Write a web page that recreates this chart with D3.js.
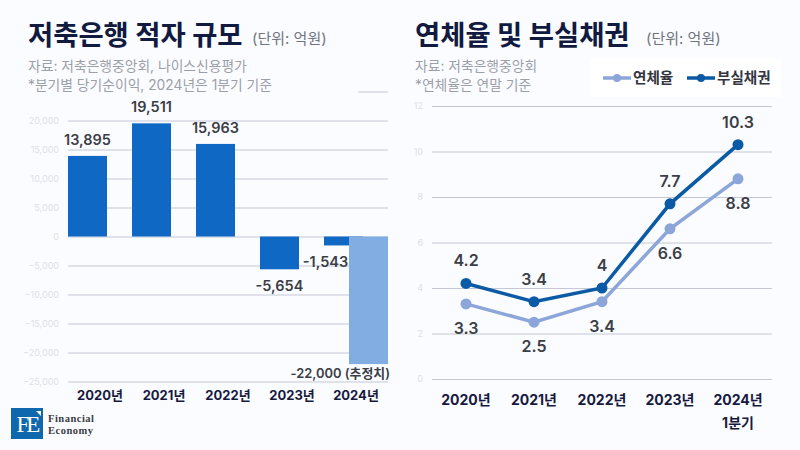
<!DOCTYPE html>
<html>
<head>
<meta charset="utf-8">
<script src="https://cdn.jsdelivr.net/npm/d3@7"></script>
<style>
  html, body { margin: 0; padding: 0; background: #fbfcff; }
  svg { display: block; }
  text { font-family: Inter, "Noto Sans CJK KR", sans-serif; }
</style>
</head>
<body>
<div id="canvas"></div>
<script>
"use strict"

/* left chart data */
let years = ["2020년", "2021년", "2022년", "2023년", "2024년"];
let barSeries = ["actual", "estimate"];
let actualValues = [13895, 19511, 15963, -5654, -1543];
let estimateValues = [null, null, null, null, -22000];
let barTicks = [-25000, -20000, -15000, -10000, -5000, 0, 5000, 10000, 15000, 20000, 25000];

/* right chart data */
let lineYears = ["2020년", "2021년", "2022년", "2023년", "2024년"];
let delinquency = [3.3, 2.5, 3.4, 6.6, 8.8];
let badLoans = [4.2, 3.4, 4, 7.7, 10.3];
let lineTicks = [0, 2, 4, 6, 8, 10, 12];

let drawing = d3.select("#canvas")
  .append("svg")
  .attr("width", 800)
  .attr("height", 450);

drawing.append("rect")
  .attr("width", 800)
  .attr("height", 450)
  .attr("fill", "#fbfcff");

/* left chart scales */
let barX = d3.scaleBand().domain(years).range([68, 388]);
let barOffset = d3.scalePoint().domain(barSeries).range([0, 25]);
let barWidth = 39;
let barY = d3.scaleLinear().domain([-25000, 25000]).range([381.5, 91.5]);

function styleAxis(g) {
  g.select(".domain").remove();
  g.selectAll(".tick line").attr("stroke", "#c3c7d6").attr("stroke-width", 1);
  g.selectAll(".tick text")
    .attr("fill", "#dcdfe7")
    .attr("font-size", 9);
}

/* the top tick has its line only, its label is not shown in the picture */
let barAxis = drawing.append("g")
  .attr("transform", "translate(68,0)")
  .call(d3.axisLeft(barY).tickValues(barTicks).tickSize(-320).tickPadding(9)
    .tickFormat(d => d == 25000 ? "" : d3.format(",")(d)));
styleAxis(barAxis);

/* bars */
drawing.selectAll(".bar-actual")
  .data(actualValues)
  .join("rect")
  .attr("class", "bar-actual")
  .attr("x", (d, i) => barX(years[i]) + barOffset("actual"))
  .attr("y", d => barY(Math.max(d, 0)))
  .attr("width", barWidth)
  .attr("height", d => Math.abs(barY(d) - barY(0)))
  .attr("fill", "#0f69c4");

drawing.selectAll(".bar-estimate")
  .data(estimateValues.filter(d => d !== null))
  .join("rect")
  .attr("class", "bar-estimate")
  .attr("x", barX("2024년") + barOffset("estimate"))
  .attr("y", barY(0))
  .attr("width", barWidth)
  .attr("height", d => barY(d) - barY(0))
  .attr("fill", "#82ade3");

/* bar labels */
drawing.selectAll(".bar-label")
  .data(actualValues)
  .join("text")
  .attr("class", "bar-label")
  .attr("x", (d, i) => barX(years[i]) + barOffset("actual") + barWidth / 2 + (i == 4 ? -18 : 0))
  .attr("y", d => d > 0 ? barY(d) - 11 : barY(d) + 22)
  .attr("text-anchor", "middle")
  .attr("font-size", 14.5)
  .attr("font-weight", 600)
  .attr("fill", "#3b3e46")
  .text(d => d3.format(",")(d).replace("−", "-"));

drawing.append("text")
  .attr("x", 390)
  .attr("y", barY(-22000) + 14)
  .attr("text-anchor", "end")
  .attr("font-size", 12.9)
  .attr("font-weight", 600)
  .attr("fill", "#3b3e46")
  .text("-22,000 (추정치)");

let barCats = drawing.append("g")
  .attr("transform", "translate(0,381.5)")
  .call(d3.axisBottom(barX).tickSize(0).tickPadding(9));
barCats.select(".domain").remove();
barCats.selectAll("text")
  .attr("fill", "#171a40")
  .attr("font-size", 13)
  .attr("font-weight", 700);

/* right chart scales */
let lineX = d3.scaleBand().domain(lineYears).range([432, 772]);
let lineY = d3.scaleLinear().domain([0, 12]).range([379, 106]);
let centerX = (d, i) => lineX(lineYears[i]) + lineX.bandwidth() / 2;

let lineAxis = drawing.append("g")
  .attr("transform", "translate(432,0)")
  .call(d3.axisLeft(lineY).tickValues(lineTicks).tickSize(-340).tickPadding(9));
styleAxis(lineAxis);

let linePath = d3.line().x(centerX).y(d => lineY(d));

function drawSeries(name, values, color, labelDy) {
  drawing.append("path")
    .datum(values)
    .attr("d", linePath)
    .attr("fill", "none")
    .attr("stroke", color)
    .attr("stroke-width", 3.5);

  drawing.selectAll(".dot-" + name)
    .data(values)
    .join("circle")
    .attr("class", "dot-" + name)
    .attr("cx", centerX)
    .attr("cy", d => lineY(d))
    .attr("r", 5.5)
    .attr("fill", color);

  drawing.selectAll(".label-" + name)
    .data(values)
    .join("text")
    .attr("class", "label-" + name)
    .attr("x", centerX)
    .attr("y", d => lineY(d) + labelDy)
    .attr("text-anchor", "middle")
    .attr("font-size", 16)
    .attr("font-weight", 600)
    .attr("fill", "#3b3e46")
    .text(d => d);
}

drawSeries("delinquency", delinquency, "#8ca6d9", 30);
drawSeries("bad", badLoans, "#0b5aa6", -17);

let lineCats = drawing.append("g")
  .attr("transform", "translate(0,379)")
  .call(d3.axisBottom(lineX).tickSize(0).tickPadding(16));
lineCats.select(".domain").remove();
lineCats.selectAll("text")
  .attr("fill", "#171a40")
  .attr("font-size", 14)
  .attr("font-weight", 700);

drawing.append("text")
  .attr("x", centerX(null, 4))
  .attr("y", 428)
  .attr("text-anchor", "middle")
  .attr("fill", "#171a40")
  .attr("font-size", 14)
  .attr("font-weight", 700)
  .text("1분기");

/* box behind the left notes, hides the top gridline */
drawing.append("rect")
  .attr("x", 0)
  .attr("y", 52)
  .attr("width", 358)
  .attr("height", 46)
  .attr("fill", "#fbfcff");

/* titles */
function addTitle(x, title, unitX, notes) {
  drawing.append("text")
    .attr("x", x)
    .attr("y", 45)
    .attr("font-size", 27.4)
    .attr("font-weight", 700)
    .attr("fill", "#111a3f")
    .text(title);

  drawing.append("text")
    .attr("x", unitX)
    .attr("y", 44)
    .attr("font-size", 15)
    .attr("fill", "#6f7480")
    .text("(단위: 억원)");

  notes.forEach((note, i) => {
    drawing.append("text")
      .attr("x", x)
      .attr("y", 71 + i * 19)
      .attr("font-size", 13.8)
      .attr("fill", "#9b9fa8")
      .text(note);
  });
}

addTitle(28, "저축은행 적자 규모", 252, ["자료: 저축은행중앙회, 나이스신용평가", "*분기별 당기순이익, 2024년은 1분기 기준"]);
addTitle(415, "연체율 및 부실채권", 646, ["자료: 저축은행중앙회", "*연체율은 연말 기준"]);

/* legend */
drawing.append("rect")
  .attr("x", 590)
  .attr("y", 58)
  .attr("width", 191)
  .attr("height", 39)
  .attr("fill", "#ffffff");

let legendItems = [
  { name: "연체율", color: "#8ca6d9", x: 603 },
  { name: "부실채권", color: "#0b5aa6", x: 687 }
];

legendItems.forEach(item => {
  drawing.append("line")
    .attr("x1", item.x)
    .attr("x2", item.x + 28)
    .attr("y1", 78)
    .attr("y2", 78)
    .attr("stroke", item.color)
    .attr("stroke-width", 3.5);
  drawing.append("circle")
    .attr("cx", item.x + 14)
    .attr("cy", 78)
    .attr("r", 4)
    .attr("fill", item.color);
  drawing.append("text")
    .attr("x", item.x + 30)
    .attr("y", 83)
    .attr("font-size", 14.6)
    .attr("font-weight", 700)
    .attr("fill", "#33363f")
    .text(item.name);
});

/* logo */
drawing.append("rect")
  .attr("x", 11)
  .attr("y", 408)
  .attr("width", 32)
  .attr("height", 31)
  .attr("fill", "#0f68ae");

drawing.append("text")
  .attr("x", 27)
  .attr("y", 432)
  .attr("text-anchor", "middle")
  .attr("font-size", 23)
  .attr("letter-spacing", -3)
  .attr("fill", "#ffffff")
  .style("font-family", "'Liberation Serif', serif")
  .text("FE");

drawing.append("path")
  .attr("d", d3.line()([[36, 411], [41, 411], [41, 416]]))
  .attr("fill", "#ffffff");

["Financial", "Economy"].forEach((word, i) => {
  drawing.append("text")
    .attr("x", 48)
    .attr("y", 422 + i * 11.5)
    .attr("font-size", 10.5)
    .attr("letter-spacing", 0.5)
    .attr("font-weight", 700)
    .attr("fill", "#3a3d45")
    .style("font-family", "'Liberation Serif', serif")
    .text(word);
});
</script>
</body>
</html>
